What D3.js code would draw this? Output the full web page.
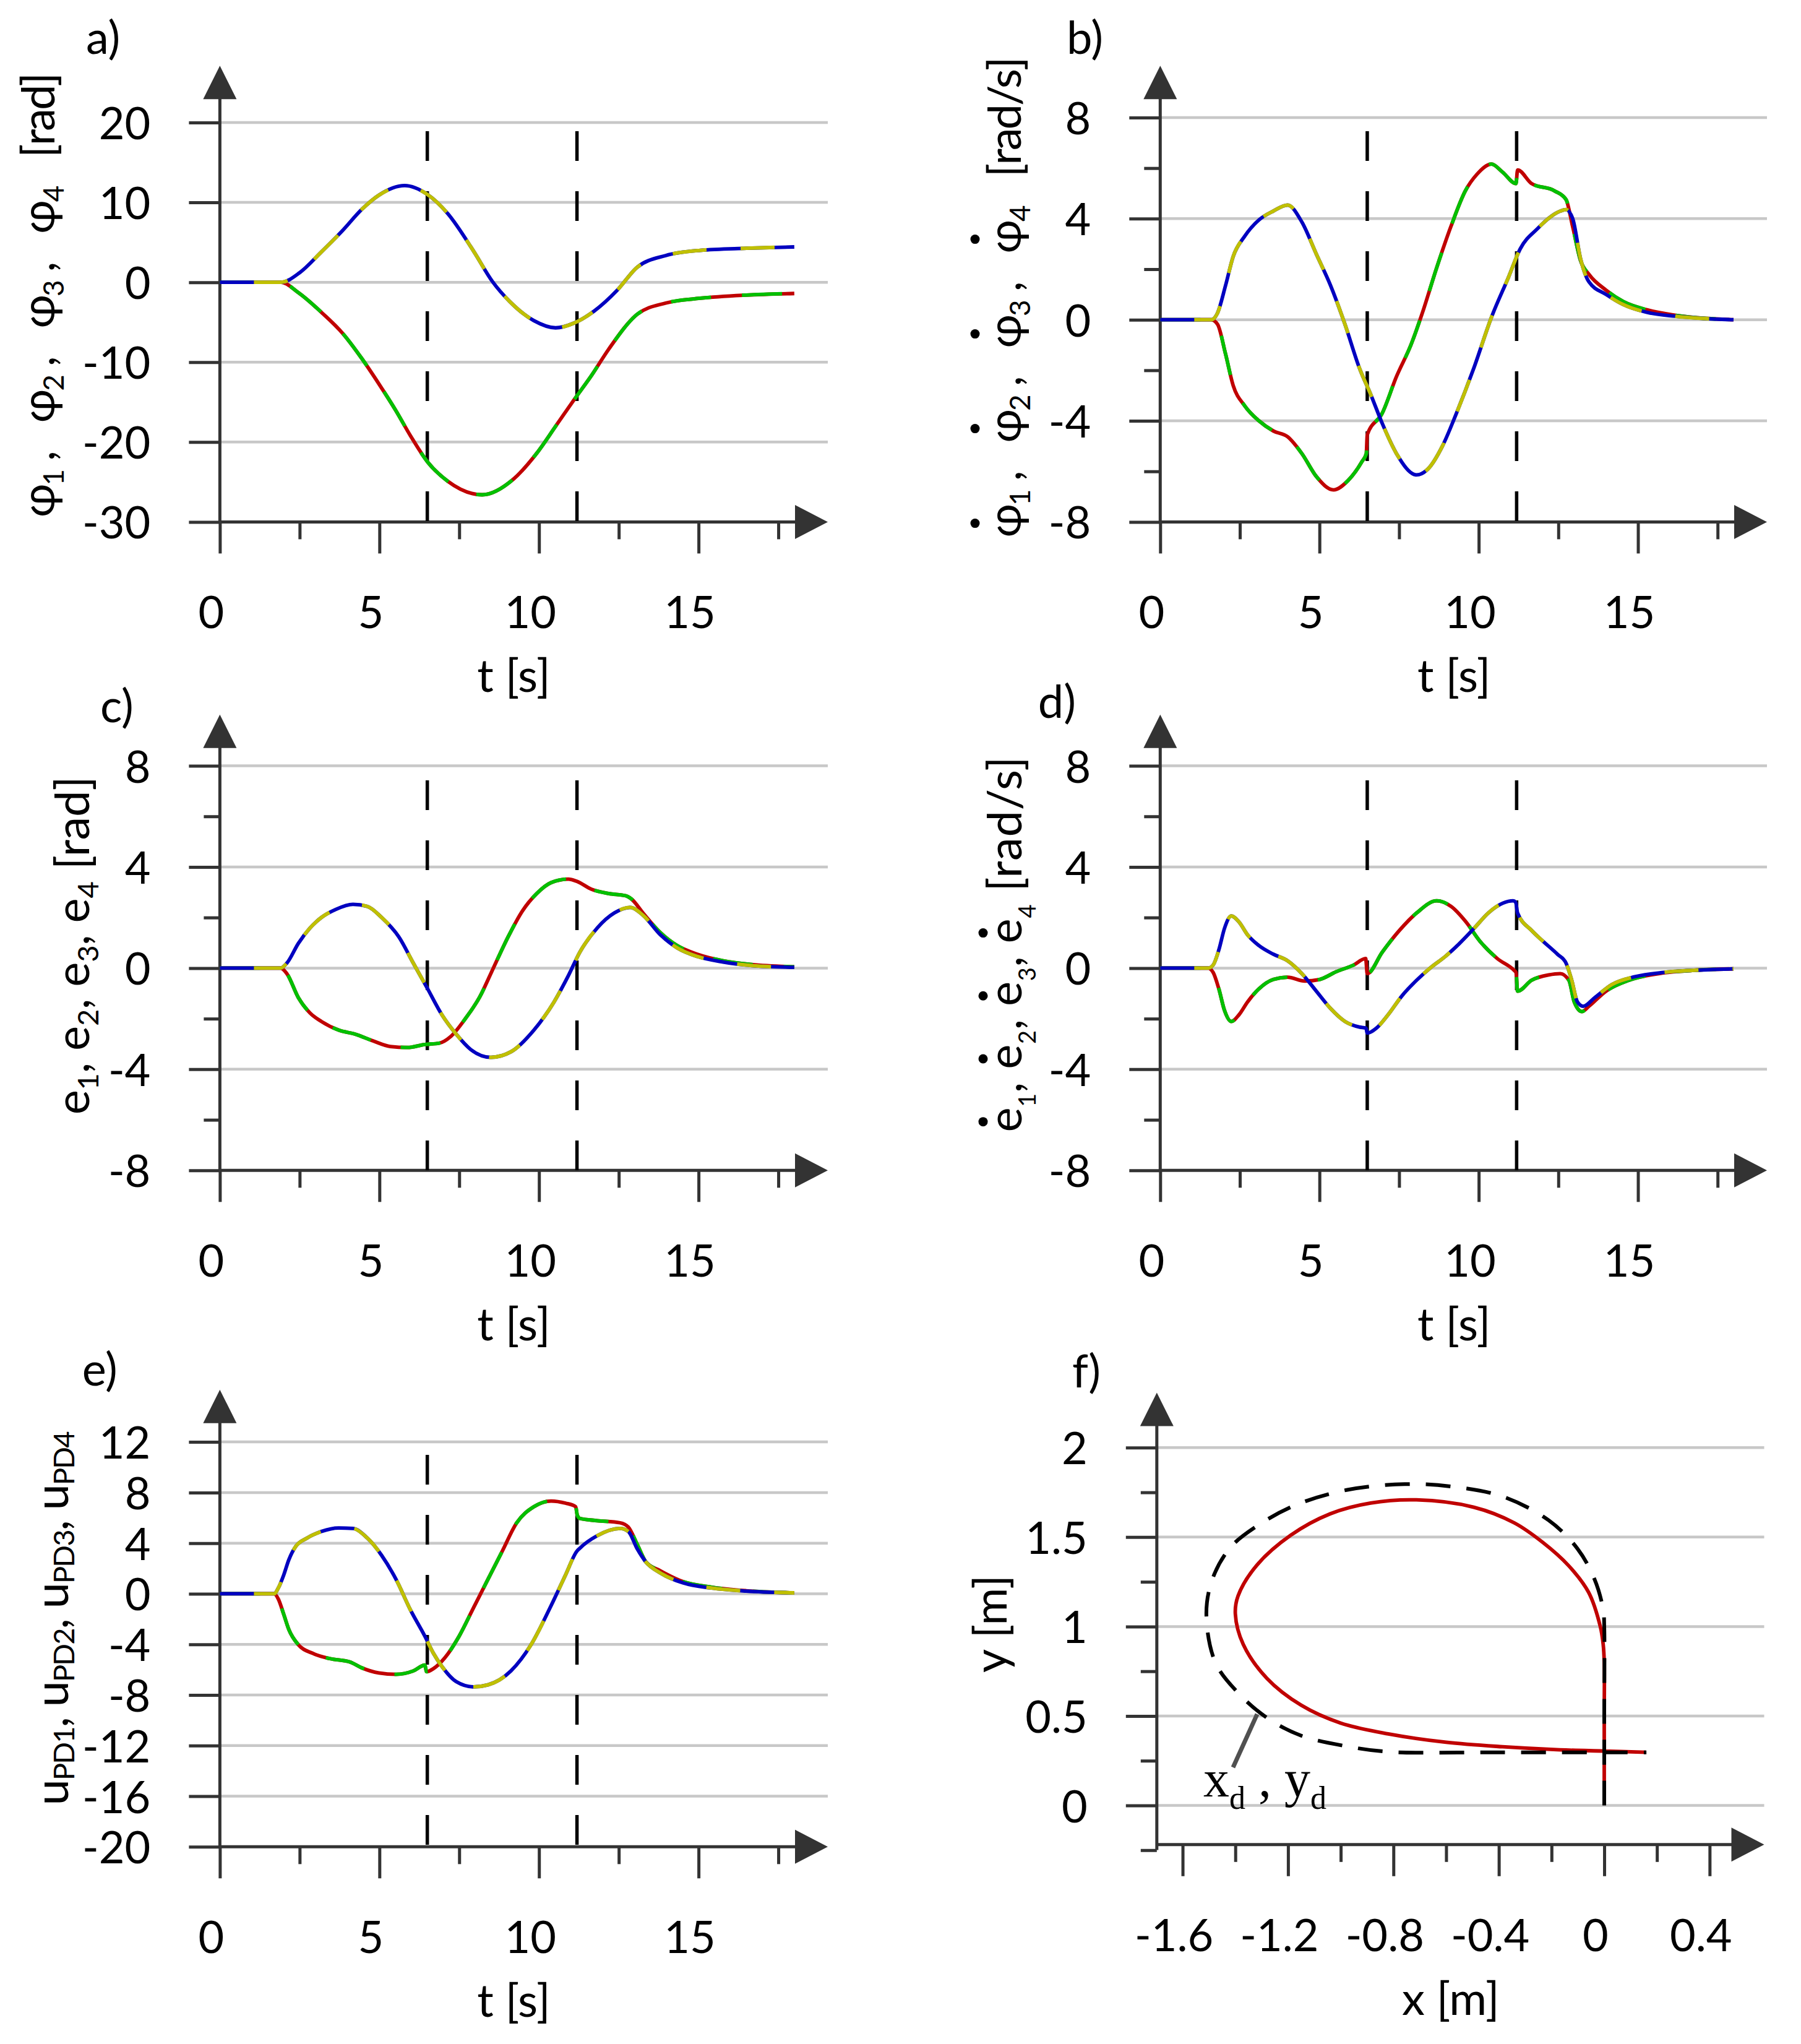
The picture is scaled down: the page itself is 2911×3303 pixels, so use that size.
<!DOCTYPE html>
<html>
<head>
<meta charset="utf-8">
<script src="https://cdn.jsdelivr.net/npm/d3@7"></script>
<style>
  body { margin: 0; background: #fff; }
  svg { display: block; }
  text { font-family: Lato, "Open Sans", sans-serif; white-space: pre; fill: #000; }
</style>
</head>
<body>
<svg id="chart" width="2911" height="3303"></svg>
<script>
// switching instants (dashed verticals)
const switchTimes = [6.5, 11.19];

// a) joint angles, pair 1/2 (red, green) and pair 3/4 (blue, yellow)
const aT12 = [0, 1.92, 2.46, 3.18, 3.85, 4.44, 4.98, 5.52, 5.97, 6.51, 7.14, 8.22, 9.21, 9.93, 10.56, 11.1, 11.64, 12.18, 13.08, 13.97, 15.05, 16.5, 18.0];
const aPhi12 = [0, 0, -1.3, -3.75, -6.4, -9.5, -12.7, -16.1, -19.2, -22.5, -24.9, -26.6, -24.6, -21.4, -17.8, -14.7, -11.7, -8.4, -4.0, -2.6, -2.0, -1.6, -1.4];
const aT34 = [0, 1.92, 2.5, 3.18, 3.85, 4.44, 4.98, 5.79, 6.5, 7.14, 7.95, 8.54, 9.08, 9.84, 10.52, 11.1, 11.73, 12.45, 13.08, 13.97, 15.05, 16.5, 18.0];
const aPhi34 = [0, 0, 1.2, 3.8, 6.5, 9.1, 10.9, 12.1, 11.0, 8.6, 3.9, 0.1, -2.4, -4.8, -5.7, -5.1, -3.6, -1.0, 1.9, 3.35, 4.0, 4.26, 4.43];

// b) joint velocities
const bT12 = [0, 1.6, 1.8, 2.05, 2.29, 2.65, 3.1, 3.55, 4.0, 4.45, 4.9, 5.44, 5.89, 6.34, 6.47, 6.5, 6.97, 7.42, 7.87, 8.23, 8.68, 9.13, 9.58, 9.94, 10.4, 10.75, 11.17, 11.22, 11.66, 12.38, 12.74, 12.95, 13.2, 13.46, 14.0, 14.54, 15.26, 16.16, 18.0];
const bDphi12 = [0, 0, -0.18, -1.35, -2.6, -3.4, -4.0, -4.4, -4.63, -5.3, -6.2, -6.73, -6.37, -5.6, -5.3, -4.55, -3.7, -2.24, -1.0, 0.27, 2.06, 3.7, 5.1, 5.75, 6.16, 5.84, 5.39, 5.93, 5.39, 5.1, 4.76, 3.68, 2.33, 1.8, 1.17, 0.72, 0.4, 0.18, 0];
const bT34 = [0, 1.6, 1.8, 2.05, 2.29, 2.65, 3.1, 3.55, 4.0, 4.45, 4.9, 5.35, 5.8, 6.25, 6.61, 6.97, 7.42, 8.05, 8.41, 8.86, 9.3, 9.85, 10.4, 10.94, 11.3, 11.84, 12.56, 12.74, 12.95, 13.2, 13.46, 14.0, 14.54, 15.26, 16.16, 17.06, 18.0];
const bDphi34 = [0, 0, 0.27, 1.35, 2.5, 3.3, 3.95, 4.3, 4.54, 3.86, 2.6, 1.35, -0.18, -1.9, -2.96, -4.1, -5.3, -6.14, -5.9, -5.0, -3.7, -1.9, 0.1, 1.7, 2.8, 3.6, 4.3, 4.36, 4.0, 2.4, 1.5, 1.0, 0.6, 0.3, 0.14, 0.05, 0];

// c) tracking errors
const cT12 = [0, 1.9, 2.1, 2.46, 2.82, 3.18, 3.72, 4.26, 4.8, 5.34, 5.88, 6.42, 6.87, 7.23, 7.68, 8.13, 8.58, 9.03, 9.48, 9.93, 10.38, 10.92, 11.19, 11.64, 12.18, 12.72, 12.9, 13.26, 13.8, 14.33, 14.96, 15.77, 16.67, 18.0];
const cE12 = [0, 0, -0.22, -1.17, -1.77, -2.11, -2.45, -2.62, -2.88, -3.1, -3.14, -3.02, -2.97, -2.71, -2.02, -1.17, 0.03, 1.23, 2.26, 2.95, 3.38, 3.52, 3.43, 3.12, 2.95, 2.86, 2.73, 2.18, 1.41, 0.89, 0.55, 0.29, 0.14, 0.05];
const cT34 = [0, 1.9, 2.1, 2.46, 2.82, 3.18, 3.63, 4.17, 4.62, 5.07, 5.61, 6.06, 6.51, 6.96, 7.41, 7.86, 8.49, 9.12, 9.84, 10.47, 10.92, 11.28, 11.82, 12.36, 12.86, 13.26, 13.8, 14.33, 14.96, 15.77, 16.67, 18.0];
const cE34 = [0, 0, 0.2, 0.98, 1.58, 2.0, 2.32, 2.52, 2.44, 2.0, 1.23, 0.2, -0.82, -1.85, -2.62, -3.22, -3.53, -3.31, -2.45, -1.34, -0.3, 0.63, 1.58, 2.18, 2.4, 2.09, 1.32, 0.8, 0.46, 0.24, 0.1, 0.03];

// d) error rates
const dT12 = [0, 1.5, 1.66, 1.84, 2.02, 2.23, 2.47, 2.74, 3.1, 3.55, 4.0, 4.54, 5.0, 5.53, 6.07, 6.45, 6.5, 6.97, 7.51, 8.05, 8.68, 9.13, 9.59, 10.04, 10.58, 11.12, 11.17, 11.22, 11.66, 12.2, 12.56, 12.83, 13.0, 13.24, 13.46, 14.0, 14.72, 15.8, 16.7, 18.0];
const dDe12 = [0, 0, -0.17, -0.82, -1.68, -2.11, -1.85, -1.34, -0.82, -0.45, -0.36, -0.51, -0.45, -0.14, 0.12, 0.38, -0.22, 0.63, 1.49, 2.18, 2.66, 2.44, 1.84, 1.06, 0.38, -0.1, -0.17, -0.91, -0.48, -0.27, -0.22, -0.48, -1.34, -1.72, -1.51, -0.91, -0.48, -0.19, -0.09, -0.03];
const dT34 = [0, 1.5, 1.66, 1.84, 2.02, 2.23, 2.47, 2.74, 3.1, 3.55, 4.0, 4.45, 4.9, 5.35, 5.8, 6.25, 6.46, 6.5, 6.79, 7.15, 7.6, 8.05, 8.5, 8.95, 9.4, 9.86, 10.3, 10.76, 11.08, 11.16, 11.22, 11.66, 12.02, 12.47, 12.74, 12.92, 13.1, 13.28, 13.64, 14.18, 14.9, 15.8, 16.7, 18.0];
const dDe34 = [0, 0, 0.12, 0.72, 1.58, 2.06, 1.83, 1.32, 0.89, 0.55, 0.29, -0.22, -0.91, -1.6, -2.11, -2.33, -2.37, -2.57, -2.37, -1.85, -1.08, -0.48, 0.03, 0.46, 0.98, 1.58, 2.18, 2.57, 2.66, 2.6, 2.18, 1.49, 1.06, 0.55, 0.2, -0.48, -1.34, -1.51, -1.17, -0.65, -0.34, -0.17, -0.09, -0.03];

// e) PD control signals
const eT12 = [0, 1.7, 1.83, 2.0, 2.16, 2.46, 2.91, 3.45, 4.08, 4.44, 4.98, 5.52, 6.06, 6.42, 6.48, 6.69, 7.05, 7.5, 7.95, 8.4, 8.85, 9.3, 9.84, 10.38, 10.83, 11.15, 11.2, 11.28, 11.82, 12.54, 12.8, 13.08, 13.35, 13.8, 14.51, 15.41, 16.49, 18.0];
const eU12 = [0, 0, -0.41, -1.62, -2.82, -4.03, -4.71, -5.13, -5.4, -5.85, -6.26, -6.37, -6.1, -5.64, -6.16, -5.92, -5.06, -3.34, -1.1, 1.14, 3.37, 5.6, 6.88, 7.33, 7.16, 6.88, 6.2, 5.95, 5.78, 5.61, 5.27, 3.89, 2.51, 1.82, 0.96, 0.52, 0.24, 0.07];
const eT34 = [0, 1.7, 1.83, 2.0, 2.16, 2.37, 2.73, 3.18, 3.72, 4.17, 4.62, 5.07, 5.52, 5.97, 6.42, 6.69, 6.96, 7.41, 7.95, 8.4, 9.12, 9.75, 10.38, 10.83, 11.19, 11.28, 11.82, 12.54, 12.8, 13.08, 13.35, 13.8, 14.51, 15.41, 16.49, 18.0];
const eU34 = [0, 0, 0.45, 1.48, 2.68, 3.72, 4.4, 4.92, 5.2, 5.16, 4.4, 3.03, 1.14, -1.27, -3.34, -4.7, -5.75, -6.95, -7.36, -7.2, -6.1, -4.03, -0.93, 1.48, 3.37, 3.6, 4.58, 5.16, 4.92, 3.54, 2.51, 1.65, 0.86, 0.45, 0.21, 0.07];

// f) end-effector path: desired (dashed) and actual (red)
const fXd = [0, 0, 0, -0.004, -0.037, -0.102, -0.211, -0.386, -0.582, -0.757, -0.975, -1.17, -1.32, -1.42, -1.487, -1.51, -1.476, -1.39, -1.28, -1.15, -0.975, -0.82, -0.4, 0, 0.16];
const fYd = [0, 0.5, 1.0, 1.095, 1.265, 1.436, 1.594, 1.727, 1.783, 1.796, 1.764, 1.68, 1.56, 1.44, 1.265, 1.07, 0.8, 0.63, 0.49, 0.39, 0.33, 0.3, 0.297, 0.297, 0.297];
const fX = [0, 0, 0, -0.004, -0.015, -0.059, -0.135, -0.233, -0.342, -0.495, -0.713, -0.887, -1.04, -1.19, -1.32, -1.39, -1.40, -1.37, -1.28, -1.15, -1.0, -0.82, -0.6, -0.386, -0.168, 0, 0.159];
const fY = [0.06, 0.5, 0.8, 0.9, 1.0, 1.19, 1.34, 1.47, 1.58, 1.667, 1.708, 1.69, 1.63, 1.51, 1.34, 1.17, 1.07, 0.9, 0.71, 0.56, 0.46, 0.4, 0.353, 0.328, 0.311, 0.304, 0.297];

// ticks
const tTicks = [0, 5, 10, 15];
const tMinor = [2.5, 7.5, 12.5, 17.5];
const yTicksA = [-30, -20, -10, 0, 10, 20];
const yTicks8 = [-8, -4, 0, 4, 8];
const yMinor8 = [-6, -2, 2, 6];
const yTicksE = [-20, -16, -12, -8, -4, 0, 4, 8, 12];
const yTicksF = [0, 0.5, 1, 1.5, 2];
const yMinorF = [-0.25, 0.25, 0.75, 1.25, 1.75];
const xTicksF = [-1.6, -1.2, -0.8, -0.4, 0, 0.4];
const xMinorF = [-1.4, -1.0, -0.6, -0.2, 0.2];

const RED = "#c00000", GREEN = "#00c000", BLUE = "#0000c0", YELLOW = "#c0c000";
const AX = "#333333", GRID = "#c8c8c8";
const FS = 72;

const svg = d3.select("#chart");

function drawFrame(p) {
  const g = svg.append("g");
  const x = d3.scaleLinear().domain(p.xDomain).range([p.left, p.right]);
  const y = d3.scaleLinear().domain(p.yDomain).range(p.yRange);

  g.append("g").selectAll("line").data(p.grid).join("line")
    .attr("x1", p.left).attr("x2", p.right)
    .attr("y1", d => y(d)).attr("y2", d => y(d))
    .attr("stroke", GRID).attr("stroke-width", 4.5);

  const tickAxes = [
    g.append("g").attr("transform", `translate(${p.left},0)`)
      .call(d3.axisLeft(y).tickValues(p.yTicks).tickSize(50).tickFormat("")),
    g.append("g").attr("transform", `translate(${p.left},0)`)
      .call(d3.axisLeft(y).tickValues(p.yMinor).tickSize(26).tickFormat("")),
    g.append("g").attr("transform", `translate(0,${p.axisY})`)
      .call(d3.axisBottom(x).tickValues(p.xTicks).tickSize(51).tickFormat("")),
    g.append("g").attr("transform", `translate(0,${p.axisY})`)
      .call(d3.axisBottom(x).tickValues(p.xMinor).tickSize(28).tickFormat(""))
  ];
  tickAxes.forEach(a => {
    a.select(".domain").remove();
    a.selectAll("line").attr("stroke", AX).attr("stroke-width", 5);
  });

  // axis lines with arrow heads
  g.append("line").attr("x1", p.left).attr("x2", p.left)
    .attr("y1", p.yBottom).attr("y2", p.arrowTop + 50)
    .attr("stroke", AX).attr("stroke-width", 5);
  g.append("line").attr("x1", p.left).attr("x2", p.right - 50)
    .attr("y1", p.axisY).attr("y2", p.axisY)
    .attr("stroke", AX).attr("stroke-width", 5);
  g.append("path")
    .attr("d", `M${p.left},${p.arrowTop}L${p.left - 27},${p.arrowTop + 54}L${p.left + 27},${p.arrowTop + 54}Z`)
    .attr("fill", AX);
  g.append("path")
    .attr("d", `M${p.right},${p.axisY}L${p.right - 53},${p.axisY - 27.5}L${p.right - 53},${p.axisY + 27.5}Z`)
    .attr("fill", AX);

  // tick labels
  g.append("g").selectAll("text").data(p.yTicks).join("text")
    .attr("x", p.left - 112).attr("y", d => y(d) + 27)
    .attr("text-anchor", "end").attr("font-size", FS)
    .text(d => String(d));
  g.append("g").selectAll("text").data(p.xTicks).join("text")
    .attr("x", d => x(d) - 14).attr("y", p.axisY + 172)
    .attr("text-anchor", "middle").attr("font-size", FS)
    .text(d => String(d));

  g.append("text").attr("x", p.left + 475).attr("y", p.axisY + 275)
    .attr("text-anchor", "middle").attr("font-size", 74).text(p.xTitle);
  g.append("text").attr("x", p.letter[0]).attr("y", p.letter[1])
    .attr("font-size", 74).text(p.letter[2]);

  // switching lines
  if (p.dashTop) {
    g.append("g").selectAll("line").data(switchTimes).join("line")
      .attr("x1", d => x(d)).attr("x2", d => x(d))
      .attr("y1", p.dashTop).attr("y2", p.axisY)
      .attr("stroke", "#000").attr("stroke-width", 5.5)
      .attr("stroke-dasharray", "48 49");
  }
  return { g, x, y };
}

function drawPair(f, ts, vs, solid, dashed, dash, offset) {
  const pts = ts.map((t, i) => [t, vs[i]]);
  const line = d3.line().x(d => f.x(d[0])).y(d => f.y(d[1])).curve(d3.curveMonotoneX);
  return [solid, dashed].map((c, k) =>
    f.g.append("path").datum(pts).attr("d", line)
      .attr("fill", "none").attr("stroke", c).attr("stroke-width", 5.8)
      .attr("stroke-dasharray", k ? dash : null)
      .attr("stroke-dashoffset", k ? offset : null));
}

function yLabel(bx, cy, len, parts, size, sub) {
  const g = svg.append("g").attr("transform", `translate(${bx},${cy}) rotate(-90)`);
  const t = g.append("text").attr("font-size", size).attr("text-anchor", "middle");
  let idx = 0, inSub = false;
  const dots = [];
  parts.forEach(p => {
    const s = t.append("tspan").text(p.s);
    if (p.sub) {
      s.attr("font-size", size * sub.scale);
      if (!inSub) s.attr("dy", size * sub.shift);
      inSub = true;
    } else {
      if (inSub) s.attr("dy", -size * sub.shift);
      inSub = false;
    }
    if (p.dot) dots.push(idx);
    idx += p.s.length;
  });
  t.attr("textLength", len).attr("lengthAdjust", "spacing");
  dots.forEach(i => {
    const e = t.node().getExtentOfChar(i);
    g.append("circle").attr("cx", e.x + e.width * 0.42).attr("cy", -sub.dotUp)
      .attr("r", 7.5).attr("fill", "#000");
  });
}

const common = { xDomain: [0, 19.05], xTicks: tTicks, xMinor: tMinor, xTitle: "t [s]" };

// a
const fa = drawFrame(Object.assign({}, common, {
  left: 355.4, right: 1338, axisY: 843.4, yBottom: 843.4, arrowTop: 106.3, dashTop: 212,
  yDomain: [-30, 20], yRange: [843.4, 198], yTicks: yTicksA, yMinor: [], grid: [-20, -10, 0, 10, 20],
  letter: [139, 86.5, "a)"]
}));
drawPair(fa, aT12, aPhi12, RED, GREEN, "65 50", 0);
drawPair(fa, aT34, aPhi34, BLUE, YELLOW, "55 55", 55);

// b
const fb = drawFrame(Object.assign({}, common, {
  left: 1875.3, right: 2856, axisY: 843.4, yBottom: 843.4, arrowTop: 106.3, dashTop: 212,
  yDomain: [-8, 8], yRange: [843.4, 190], yTicks: yTicks8, yMinor: yMinor8, grid: [-4, 0, 4, 8],
  letter: [1724, 86.5, "b)"]
}));
drawPair(fb, bT12, bDphi12, RED, GREEN, "65 50", 0);
drawPair(fb, bT34, bDphi34, BLUE, YELLOW, "55 55", 55);

// c
const fc = drawFrame(Object.assign({}, common, {
  left: 355.4, right: 1338, axisY: 1891.3, yBottom: 1891.3, arrowTop: 1154.7, dashTop: 1261,
  yDomain: [-8, 8], yRange: [1891.3, 1237.5], yTicks: yTicks8, yMinor: yMinor8, grid: [-4, 0, 4, 8],
  letter: [162, 1166.6, "c)"]
}));
drawPair(fc, cT12, cE12, RED, GREEN, "65 50", 0);
drawPair(fc, cT34, cE34, BLUE, YELLOW, "55 55", 55);

// d
const fd = drawFrame(Object.assign({}, common, {
  left: 1875.3, right: 2856, axisY: 1891.3, yBottom: 1891.3, arrowTop: 1154.7, dashTop: 1261,
  yDomain: [-8, 8], yRange: [1891.3, 1237.5], yTicks: yTicks8, yMinor: yMinor8, grid: [-4, 0, 4, 8],
  letter: [1677.7, 1159.6, "d)"]
}));
drawPair(fd, dT12, dDe12, RED, GREEN, "65 50", 0);
drawPair(fd, dT34, dDe34, BLUE, YELLOW, "55 55", 55);

// e
const fe = drawFrame(Object.assign({}, common, {
  left: 355.4, right: 1338, axisY: 2984.3, yBottom: 2984.3, arrowTop: 2245.7, dashTop: 2351,
  yDomain: [-20, 12], yRange: [2984.3, 2330.1], yTicks: yTicksE, yMinor: [], grid: [-16, -12, -8, -4, 0, 4, 8, 12],
  letter: [132.7, 2238.7, "e)"]
}));
drawPair(fe, eT12, eU12, RED, GREEN, "65 50", 0);
drawPair(fe, eT34, eU34, BLUE, YELLOW, "55 55", 55);

// f
const ff = drawFrame({
  left: 1869.8, right: 2851.5, axisY: 2980.8, yBottom: 2989.5, arrowTop: 2250.6, dashTop: null,
  xDomain: [-1.698, 0.607], xTicks: xTicksF, xMinor: xMinorF, xTitle: "x [m]",
  yDomain: [0, 2], yRange: [2917.5, 2339.3], yTicks: yTicksF, yMinor: yMinorF, grid: [0, 0.5, 1, 1.5, 2],
  letter: [1733, 2242, "f)"]
});
const pathLine = d3.line().x(d => ff.x(d[0])).y(d => ff.y(d[1])).curve(d3.curveCatmullRom.alpha(0.5));
ff.g.append("path").datum(fX.map((v, i) => [v, fY[i]])).attr("d", pathLine)
  .attr("fill", "none").attr("stroke", RED).attr("stroke-width", 5.8);
ff.g.append("path").datum(fXd.map((v, i) => [v, fYd[i]])).attr("d", pathLine)
  .attr("fill", "none").attr("stroke", "#000").attr("stroke-width", 6)
  .attr("stroke-dasharray", "40 26");
// annotation for the desired path
ff.g.append("line").attr("x1", 2032).attr("y1", 2770).attr("x2", 1993).attr("y2", 2856)
  .attr("stroke", "#505050").attr("stroke-width", 7);
const ann = ff.g.append("text").attr("x", 1945).attr("y", 2903)
  .attr("font-size", 84).style("font-family", "'Liberation Serif', serif");
ann.append("tspan").text("x");
ann.append("tspan").text("d").attr("font-size", 52).attr("dy", 20);
ann.append("tspan").text(" , ").attr("dy", -20);
ann.append("tspan").text("y");
ann.append("tspan").text("d").attr("font-size", 52).attr("dy", 20);

// rotated axis titles
const sep = { s: " ,   " };
const subA = { scale: 0.62, shift: 0.2, dotUp: 74 };
const subD = { scale: 0.5, shift: 0.3, dotUp: 62 };
yLabel(88, 476.5, 719, [
  { s: "φ" }, { s: "1", sub: true }, sep, { s: "φ" }, { s: "2", sub: true }, sep,
  { s: "φ" }, { s: "3", sub: true }, sep, { s: "φ" }, { s: "4", sub: true }, { s: "   [rad]" }
], 74, subA);
yLabel(1650, 480, 777, [
  { s: "φ", dot: true }, { s: "1", sub: true }, sep, { s: "φ", dot: true }, { s: "2", sub: true }, sep,
  { s: "φ", dot: true }, { s: "3", sub: true }, sep, { s: "φ", dot: true }, { s: "4", sub: true }, { s: "   [rad/s]" }
], 74, subA);
yLabel(143.8, 1527.8, 547, [
  { s: "e" }, { s: "1", sub: true }, { s: ", " }, { s: "e" }, { s: "2", sub: true }, { s: ", " },
  { s: "e" }, { s: "3", sub: true }, { s: ", " }, { s: "e" }, { s: "4", sub: true }, { s: " [rad]" }
], 76, subA);
yLabel(1651, 1526, 607, [
  { s: "e", dot: true }, { s: "1", sub: true }, { s: ", " }, { s: "e", dot: true }, { s: "2", sub: true }, { s: ", " },
  { s: "e", dot: true }, { s: "3", sub: true }, { s: ", " }, { s: "e", dot: true }, { s: "4", sub: true }, { s: " [rad/s]" }
], 76, subD);
yLabel(109.5, 2615, 605, [
  { s: "u" }, { s: "PD1", sub: true }, { s: ", " }, { s: "u" }, { s: "PD2", sub: true }, { s: ", " },
  { s: "u" }, { s: "PD3", sub: true }, { s: ", " }, { s: "u" }, { s: "PD4", sub: true }
], 76, { scale: 0.62, shift: 0.14, dotUp: 0 });
yLabel(1626.7, 2624, 158, [{ s: "y [m]" }], 74, subA);
</script>
</body>
</html>
